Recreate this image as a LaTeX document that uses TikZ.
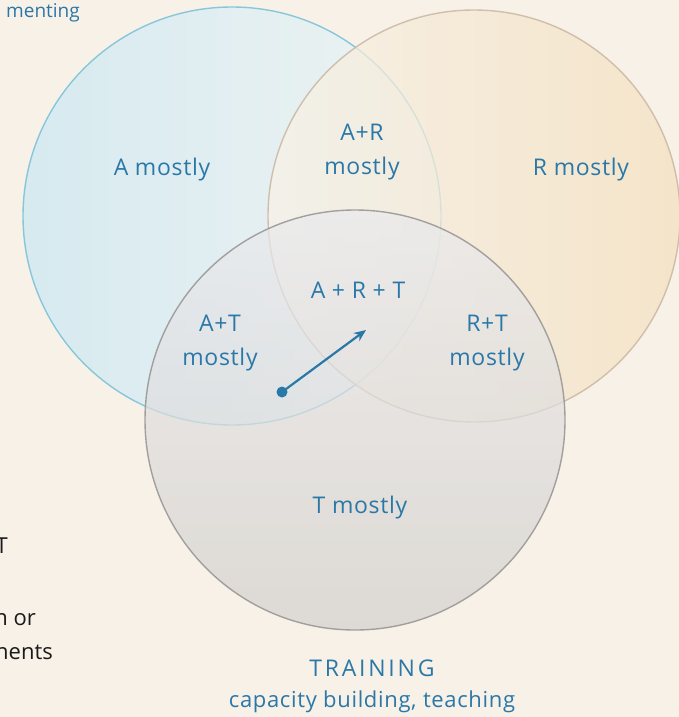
\documentclass[tikz,border=0pt]{standalone}
\usepackage{fontspec}
\setmainfont{Open Sans}
\usetikzlibrary{arrows.meta}
\definecolor{bg}{HTML}{F8F1E7}
\definecolor{ink}{HTML}{2A78A8}
\definecolor{aL}{HTML}{D3EAF2}
\definecolor{aR}{HTML}{EEF3F4}
\definecolor{aS}{HTML}{7DC3D8}
\definecolor{rL}{HTML}{F8F1E6}
\definecolor{rR}{HTML}{F3E0BF}
\definecolor{rS}{HTML}{C9B7A3}
\definecolor{tT}{HTML}{EAEAEE}
\definecolor{tB}{HTML}{D2D0CD}
\definecolor{tS}{HTML}{9A9897}
\definecolor{side}{HTML}{1A1A1A}
\tikzset{
  venn/.style={circle, inner sep=0pt, minimum size=#1},
  lbl/.style={text=ink, font=\fontsize{23}{34}\selectfont\addfontfeature{LetterSpace=3}, align=center, inner sep=0pt},
  sidetxt/.style={text=side, font=\fontsize{22}{26}\selectfont, inner sep=0pt, anchor=base east},
  dotnode/.style={circle, fill=ink, inner sep=0pt, minimum size=11pt},
}
\begin{document}
\begin{tikzpicture}[x=1pt,y=-1pt]
\useasboundingbox (0,0) rectangle (679,717);
\clip (0,0) rectangle (679,717);
\fill[bg] (0,0) rectangle (679,717);
% circles
\node[venn=418pt, left color=aL, right color=aR, fill opacity=.9, draw=aS, draw opacity=.9, line width=1.4pt] (A) at (232,216) {};
\node[venn=412pt, left color=rL, right color=rR, fill opacity=.72, draw=rS, draw opacity=.85, line width=1.4pt] (R) at (474,216) {};
\node[venn=420pt, top color=tT, bottom color=tB, fill opacity=.7, draw=tS, draw opacity=.9, line width=1.4pt] (T) at (355,420) {};
% labels
\node[lbl] (la) at (162,170) {A mostly};
\node[lbl] (lar) at (362,152) {A+R\\mostly};
\node[lbl] (lr) at (581,170) {R mostly};
\node[lbl] (lart) at (358,290) {A + R + T};
\node[lbl] (lat) at (220,343) {A+T\\mostly};
\node[lbl] (lrt) at (487,343) {R+T\\mostly};
\node[lbl] (lt) at (360,508) {T mostly};
\node[lbl, font=\fontsize{23}{26}\selectfont\addfontfeature{LetterSpace=12}] (train) at (372,668) {TRAINING};
\node[lbl, font=\fontsize{22}{26}\selectfont\addfontfeature{LetterSpace=3}] (cap) at (372,702) {capacity building, teaching};
\node[lbl, font=\fontsize{19}{22}\selectfont, anchor=base east] (doc) at (80,18) {menting};
% side texts
\node[sidetxt] (s1) at (8,553) {T};
\node[sidetxt] (s2) at (36,625) {n or};
\node[sidetxt] (s3) at (53,659) {nents};
% arrow
\node[dotnode] (p) at (282,392) {};
\coordinate (q) at (366,330);
\draw[ink, line width=2.2pt, -{Stealth[length=12pt,width=10pt]}] (p.center) -- (q);
\end{tikzpicture}
\end{document}
